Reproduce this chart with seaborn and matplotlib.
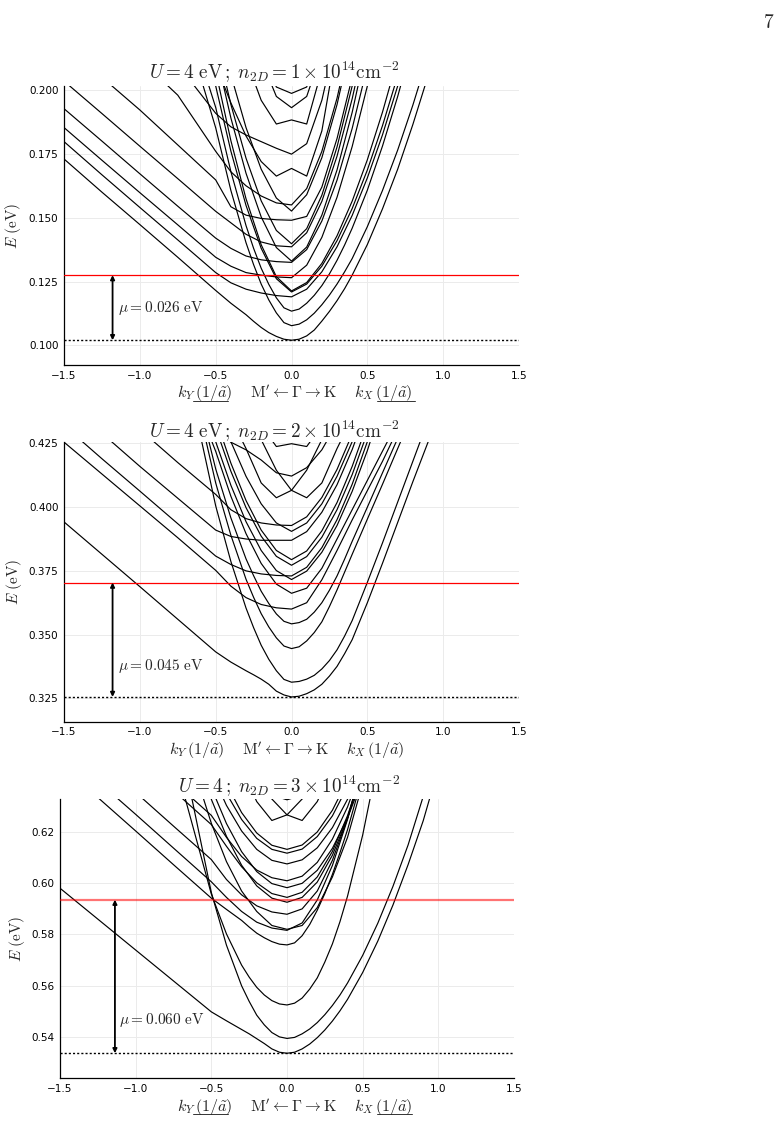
import pandas as pd
import matplotlib
matplotlib.use("Agg")
import matplotlib.pyplot as plt
from matplotlib.lines import Line2D
import seaborn as sns

# momentum grid (1/a~): negative side is k_Y (towards M'), positive side is k_X (towards K)
k_grid = [-1.5, -1.25, -1.0, -0.75, -0.5, -0.4, -0.3, -0.2, -0.1, 0.0,
          0.1, 0.2, 0.3, 0.4, 0.5, 0.6, 0.7, 0.8, 0.9, 1.0]
# extra points read near the band bottoms of the lowest bands
k_fine = [-0.25, -0.15, -0.05, 0.05, 0.15, 0.25, 0.35]

# panel 1 : U = 4 eV, n = 1e14 cm^-2   (band energies in eV)
bands_p1 = [
    [0.173, 0.160, 0.1473, 0.1345, 0.1215, 0.1165, 0.112, 0.107, 0.1035, 0.102, 0.1037, 0.1095, 0.1175, 0.1275, 0.1395, 0.1535, 0.169, 0.1865, 0.2055, 0.226],
    [0.30, 0.30, 0.30, 0.235, 0.1852, 0.1607, 0.1402, 0.124, 0.1127, 0.1077, 0.110, 0.1159, 0.124, 0.134, 0.1465, 0.1607, 0.1765, 0.1941, 0.2133, 0.234],
    [0.30, 0.30, 0.30, 0.24, 0.1932, 0.1681, 0.1469, 0.1302, 0.1186, 0.1134, 0.1165, 0.1234, 0.1333, 0.1459, 0.1608, 0.1781, 0.1975, 0.2189, 0.24, 0.262],
    [0.1798, 0.1668, 0.154, 0.1413, 0.1285, 0.1245, 0.122, 0.1205, 0.1195, 0.119, 0.122, 0.1288, 0.1386, 0.1509, 0.1656, 0.1825, 0.2016, 0.2227, 0.245, 0.268],
    [0.30, 0.30, 0.30, 0.235, 0.2016, 0.1761, 0.1548, 0.138, 0.1261, 0.1209, 0.124, 0.131, 0.141, 0.1536, 0.1687, 0.1861, 0.2056, 0.2272, 0.25, 0.275],
    [0.30, 0.30, 0.30, 0.24, 0.2074, 0.1802, 0.1574, 0.1394, 0.1269, 0.1213, 0.1246, 0.1321, 0.1429, 0.1565, 0.1727, 0.1914, 0.2124, 0.235, 0.26, 0.285],
    [0.1853, 0.1725, 0.1598, 0.1472, 0.1345, 0.131, 0.1285, 0.1275, 0.1268, 0.1265, 0.1314, 0.1423, 0.158, 0.1779, 0.2016, 0.2289, 0.26, 0.29, 0.32, 0.35],
    [0.1927, 0.18, 0.1672, 0.1545, 0.142, 0.138, 0.135, 0.1335, 0.1328, 0.1325, 0.1375, 0.1487, 0.1647, 0.185, 0.2093, 0.24, 0.27, 0.30, 0.33, 0.36],
    [0.30, 0.30, 0.30, 0.26, 0.215, 0.1891, 0.1674, 0.1503, 0.1383, 0.133, 0.1385, 0.151, 0.1687, 0.1913, 0.2182, 0.25, 0.28, 0.31, 0.34, 0.37],
    [0.2035, 0.1908, 0.178, 0.1653, 0.1525, 0.148, 0.1435, 0.1405, 0.139, 0.1386, 0.1441, 0.1564, 0.1741, 0.1966, 0.2233, 0.255, 0.29, 0.32, 0.35, 0.38],
    [0.30, 0.30, 0.30, 0.26, 0.2197, 0.1944, 0.1733, 0.1566, 0.145, 0.1398, 0.1457, 0.1588, 0.1777, 0.2016, 0.2301, 0.26, 0.29, 0.32, 0.35, 0.38],
    [0.218, 0.205, 0.1922, 0.1785, 0.1648, 0.1543, 0.151, 0.1497, 0.1492, 0.149, 0.1505, 0.162, 0.181, 0.205, 0.24, 0.27, 0.30, 0.33, 0.36, 0.39],
    [0.30, 0.30, 0.30, 0.28, 0.23, 0.206, 0.1853, 0.169, 0.1577, 0.1526, 0.159, 0.1735, 0.1943, 0.2205, 0.25, 0.28, 0.31, 0.34, 0.37, 0.40],
    [0.23, 0.22, 0.212, 0.198, 0.176, 0.168, 0.1625, 0.1585, 0.1558, 0.155, 0.1614, 0.176, 0.1968, 0.2231, 0.25, 0.28, 0.31, 0.34, 0.37, 0.40],
    [0.30, 0.30, 0.30, 0.26, 0.21, 0.195, 0.182, 0.172, 0.1663, 0.1693, 0.1663, 0.184, 0.218, 0.25, 0.28, 0.31, 0.34, 0.37, 0.40, 0.43],
    [0.30, 0.30, 0.26, 0.21, 0.1909, 0.1856, 0.1824, 0.1798, 0.1772, 0.1749, 0.179, 0.196, 0.222, 0.25, 0.28, 0.31, 0.34, 0.37, 0.40, 0.43],
    [0.30, 0.30, 0.30, 0.30, 0.28, 0.25, 0.212, 0.196, 0.1867, 0.1883, 0.1867, 0.208, 0.24, 0.27, 0.30, 0.33, 0.36, 0.39, 0.42, 0.45],
    [0.30, 0.30, 0.30, 0.30, 0.29, 0.27, 0.24, 0.212, 0.1975, 0.1931, 0.1975, 0.215, 0.24, 0.27, 0.30, 0.33, 0.36, 0.39, 0.42, 0.45],
    [0.30, 0.30, 0.30, 0.30, 0.29, 0.27, 0.25, 0.215, 0.2012, 0.1987, 0.2012, 0.22, 0.25, 0.28, 0.31, 0.34, 0.37, 0.40, 0.43, 0.46],
]
fine_p1 = [
    [0.1094, 0.105, 0.1024, 0.1024, 0.106, 0.1133, 0.1222],
    [0.1316, 0.1178, 0.1089, 0.1083, 0.1126, 0.1197, 0.1288],
    [0.138, 0.1239, 0.1147, 0.1142, 0.1196, 0.128, 0.1393],
]

# panel 2 : U = 4 eV, n = 2e14 cm^-2
bands_p2 = [
    [0.3942, 0.3815, 0.3688, 0.356, 0.3432, 0.3392, 0.3358, 0.3325, 0.3278, 0.3255, 0.3268, 0.3305, 0.3375, 0.348, 0.3625, 0.378, 0.394, 0.41, 0.4255, 0.442],
    [0.50, 0.50, 0.50, 0.469, 0.4005, 0.3787, 0.3604, 0.3458, 0.3358, 0.3313, 0.3325, 0.3365, 0.344, 0.3555, 0.3705, 0.386, 0.402, 0.418, 0.434, 0.450],
    [0.50, 0.50, 0.50, 0.474, 0.4095, 0.389, 0.3717, 0.3582, 0.3487, 0.3445, 0.3475, 0.355, 0.3675, 0.3815, 0.3953, 0.409, 0.423, 0.437, 0.45, 0.464],
    [0.50, 0.50, 0.50, 0.475, 0.415, 0.3958, 0.3797, 0.367, 0.3581, 0.3542, 0.356, 0.3625, 0.373, 0.3866, 0.40, 0.4135, 0.427, 0.44, 0.453, 0.466],
    [0.4255, 0.413, 0.4005, 0.388, 0.3752, 0.369, 0.3645, 0.3618, 0.3605, 0.360, 0.3625, 0.3715, 0.383, 0.395, 0.4065, 0.418, 0.4305, 0.443, 0.456, 0.469],
    [0.50, 0.50, 0.50, 0.46, 0.4219, 0.4043, 0.3896, 0.3779, 0.3698, 0.3662, 0.3682, 0.376, 0.3875, 0.399, 0.4105, 0.422, 0.4335, 0.445, 0.457, 0.469],
    [0.50, 0.50, 0.50, 0.46, 0.4257, 0.4086, 0.3943, 0.383, 0.3751, 0.3716, 0.3749, 0.3823, 0.3928, 0.4062, 0.4222, 0.4406, 0.46, 0.48, 0.50, 0.52],
    [0.432, 0.419, 0.4063, 0.3935, 0.3808, 0.3775, 0.375, 0.3738, 0.3732, 0.373, 0.3764, 0.3841, 0.3951, 0.409, 0.4257, 0.4448, 0.465, 0.485, 0.505, 0.525],
    [0.50, 0.50, 0.50, 0.47, 0.4311, 0.4141, 0.3998, 0.3886, 0.3807, 0.3772, 0.3806, 0.3882, 0.399, 0.4128, 0.4292, 0.448, 0.47, 0.49, 0.51, 0.53],
    [0.50, 0.50, 0.50, 0.47, 0.4348, 0.4173, 0.4026, 0.391, 0.383, 0.3794, 0.3828, 0.3907, 0.4018, 0.416, 0.4327, 0.45, 0.47, 0.49, 0.51, 0.53],
    [0.44, 0.429, 0.416, 0.4035, 0.391, 0.3885, 0.3875, 0.387, 0.387, 0.387, 0.3904, 0.398, 0.4088, 0.4226, 0.439, 0.46, 0.48, 0.50, 0.52, 0.54],
    [0.50, 0.50, 0.50, 0.48, 0.442, 0.4257, 0.4121, 0.4013, 0.3938, 0.3905, 0.3938, 0.4013, 0.4121, 0.4257, 0.442, 0.46, 0.48, 0.50, 0.52, 0.54],
    [0.46, 0.45, 0.4305, 0.4175, 0.405, 0.399, 0.3955, 0.3938, 0.393, 0.3928, 0.3962, 0.4038, 0.4148, 0.4287, 0.445, 0.465, 0.485, 0.505, 0.525, 0.545],
    [0.50, 0.50, 0.50, 0.48, 0.45, 0.435, 0.423, 0.4095, 0.4037, 0.4066, 0.4145, 0.4265, 0.44, 0.46, 0.48, 0.50, 0.52, 0.54, 0.56, 0.58],
    [0.56, 0.54, 0.52, 0.50, 0.48, 0.46, 0.44, 0.4265, 0.4145, 0.4066, 0.4037, 0.4095, 0.423, 0.435, 0.45, 0.47, 0.49, 0.51, 0.53, 0.55],
    [0.50, 0.50, 0.48, 0.45, 0.43, 0.4255, 0.4225, 0.4185, 0.4135, 0.4122, 0.4155, 0.4225, 0.433, 0.445, 0.46, 0.47, 0.48, 0.49, 0.50, 0.51],
    [0.50, 0.50, 0.50, 0.50, 0.48, 0.46, 0.445, 0.432, 0.4238, 0.4249, 0.4238, 0.432, 0.445, 0.46, 0.48, 0.50, 0.52, 0.54, 0.56, 0.58],
]
fine_p2 = [
    [0.3342, 0.3305, 0.3263, 0.3258, 0.3283, 0.3337, 0.3425],
    [0.3527, 0.3403, 0.3324, 0.3316, 0.334, 0.3398, 0.3494],
    [0.3646, 0.353, 0.3455, 0.3452, 0.3508, 0.361, 0.3745],
    [0.3731, 0.3622, 0.3552, 0.3547, 0.3588, 0.3674, 0.3796],
]

# panel 3 : U = 4, n = 3e14 cm^-2
bands_p3 = [
    [0.5981, 0.586, 0.5739, 0.5618, 0.5497, 0.5462, 0.5428, 0.5392, 0.5352, 0.5335, 0.5352, 0.5396, 0.5461, 0.5546, 0.5651, 0.5774, 0.5915, 0.6073, 0.6245, 0.645],
    [0.70, 0.70, 0.70, 0.668, 0.5964, 0.5758, 0.5599, 0.5484, 0.5416, 0.5393, 0.5411, 0.5455, 0.5522, 0.561, 0.5718, 0.5844, 0.5988, 0.615, 0.634, 0.653],
    [0.70, 0.70, 0.70, 0.65, 0.5958, 0.5802, 0.568, 0.5593, 0.5541, 0.5524, 0.5551, 0.563, 0.5763, 0.595, 0.6189, 0.648, 0.68, 0.71, 0.74, 0.77],
    [0.65, 0.6336, 0.6205, 0.6073, 0.5942, 0.5898, 0.5855, 0.5805, 0.5772, 0.5759, 0.5795, 0.5895, 0.6035, 0.621, 0.642, 0.66, 0.68, 0.70, 0.72, 0.74],
    [0.652, 0.640, 0.627, 0.6138, 0.6006, 0.5945, 0.589, 0.5848, 0.5825, 0.5816, 0.5845, 0.5935, 0.607, 0.625, 0.647, 0.67, 0.69, 0.71, 0.73, 0.75],
    [0.70, 0.70, 0.70, 0.67, 0.6235, 0.6085, 0.597, 0.589, 0.5835, 0.582, 0.5835, 0.5905, 0.6025, 0.618, 0.639, 0.66, 0.68, 0.70, 0.72, 0.74],
    [0.66, 0.648, 0.6356, 0.6224, 0.6093, 0.6015, 0.5955, 0.5912, 0.5888, 0.5879, 0.590, 0.597, 0.609, 0.6255, 0.647, 0.67, 0.69, 0.71, 0.73, 0.75],
    [0.70, 0.70, 0.70, 0.68, 0.6329, 0.6184, 0.6071, 0.599, 0.5942, 0.5926, 0.5945, 0.6005, 0.611, 0.6255, 0.644, 0.665, 0.69, 0.71, 0.73, 0.75],
    [0.68, 0.665, 0.65, 0.6363, 0.623, 0.6145, 0.6065, 0.6002, 0.596, 0.5945, 0.5965, 0.6025, 0.6125, 0.6265, 0.644, 0.665, 0.69, 0.71, 0.73, 0.75],
    [0.70, 0.70, 0.70, 0.68, 0.6374, 0.6234, 0.6124, 0.6046, 0.5999, 0.5983, 0.60, 0.6051, 0.6137, 0.6256, 0.641, 0.66, 0.68, 0.70, 0.72, 0.74],
    [0.68, 0.665, 0.652, 0.6398, 0.6266, 0.618, 0.6105, 0.6052, 0.6022, 0.601, 0.6028, 0.6082, 0.6173, 0.6299, 0.6462, 0.665, 0.69, 0.71, 0.73, 0.75],
    [0.70, 0.70, 0.70, 0.68, 0.6435, 0.6305, 0.6205, 0.6133, 0.609, 0.6076, 0.6092, 0.6139, 0.6218, 0.6329, 0.6471, 0.665, 0.69, 0.71, 0.73, 0.75],
    [0.70, 0.70, 0.70, 0.68, 0.65, 0.6352, 0.625, 0.6176, 0.6133, 0.6118, 0.6134, 0.6183, 0.6264, 0.6379, 0.652, 0.67, 0.69, 0.71, 0.73, 0.75],
    [0.70, 0.70, 0.70, 0.68, 0.655, 0.6389, 0.6277, 0.6197, 0.6149, 0.6133, 0.615, 0.6201, 0.6286, 0.6404, 0.655, 0.67, 0.69, 0.71, 0.73, 0.75],
    [0.72, 0.72, 0.72, 0.70, 0.67, 0.655, 0.645, 0.632, 0.6246, 0.6268, 0.633, 0.642, 0.655, 0.67, 0.69, 0.71, 0.73, 0.75, 0.77, 0.79],
    [0.77, 0.75, 0.73, 0.71, 0.69, 0.67, 0.655, 0.642, 0.633, 0.6268, 0.6246, 0.632, 0.645, 0.655, 0.67, 0.69, 0.71, 0.73, 0.75, 0.77],
    [0.72, 0.72, 0.72, 0.70, 0.69, 0.675, 0.66, 0.645, 0.6345, 0.6327, 0.6345, 0.645, 0.66, 0.675, 0.69, 0.70, 0.71, 0.72, 0.73, 0.74],
]
fine_p3 = [
    [0.5411, 0.5373, 0.5339, 0.5339, 0.5371, 0.5426, 0.5501],
    [0.5538, 0.5446, 0.5399, 0.5397, 0.543, 0.5486, 0.5563],
    [0.5633, 0.5563, 0.5528, 0.5531, 0.5586, 0.5692, 0.585],
    [0.5829, 0.5787, 0.5762, 0.5767, 0.5839, 0.596, 0.612],
]

titles = [r"$U = 4\ \mathrm{eV}\,;\; n_{2D} = 1 \times 10^{14}\mathrm{cm}^{-2}$",
          r"$U = 4\ \mathrm{eV}\,;\; n_{2D} = 2 \times 10^{14}\mathrm{cm}^{-2}$",
          r"$U = 4\,;\; n_{2D} = 3 \times 10^{14}\mathrm{cm}^{-2}$"]
band_bottom = [0.102, 0.3255, 0.5335]       # dotted line
fermi_level = [0.1275, 0.3704, 0.5936]      # red line
mu_labels = [r"$\mu = 0.026\ \mathrm{eV}$", r"$\mu = 0.045\ \mathrm{eV}$", r"$\mu = 0.060\ \mathrm{eV}$"]
y_ticks = [[0.100, 0.125, 0.150, 0.175, 0.200],
           [0.325, 0.350, 0.375, 0.400, 0.425],
           [0.54, 0.56, 0.58, 0.60, 0.62]]
y_fmt = ["%.3f", "%.3f", "%.2f"]
x_ticks = [-1.5, -1.0, -0.5, 0.0, 0.5, 1.0, 1.5]

sns.set_style("white")
plt.rcParams["mathtext.fontset"] = "cm"
plt.rcParams["font.family"] = ["DejaVu Sans"]

fig = plt.figure(figsize=(7.8, 11.21), dpi=100)

# layout of the three panels (figure fractions)
boxes = [[0.0821, 0.6744, 0.5833, 0.2489],
         [0.0821, 0.3562, 0.5833, 0.2498],
         [0.0769, 0.0381, 0.5821, 0.2489]]
ylims = [(0.0923, 0.2016), (0.3158, 0.4257), (0.5237, 0.6329)]
title_x = [0.4615, 0.4615, 0.504]
title_y = [1.027, 1.016, 1.027]
xlab_x = [0.508, 0.49, 0.518]
ylab_x = [-0.112, -0.11, -0.095]
arrow_k = [-1.18, -1.18, -1.137]
text_pos = [(-1.145, 0.1145), (-1.145, 0.3375), (-1.11, 0.5465)]
red_style = [dict(lw=0.9, alpha=1.0), dict(lw=0.9, alpha=1.0), dict(lw=1.6, alpha=0.55)]
# underline segments below the two "(1/a)" units (axes fractions), panels 1 and 3 only
underlines = [[(0.2835, 0.3604), (0.688, 0.771)], [], [(0.293, 0.370), (0.698, 0.776)]]

xlabel = r"$k_Y\,(1/\tilde{a})\quad\ \mathrm{M}^{\prime} \leftarrow \Gamma \rightarrow \mathrm{K}\quad\ k_X\,(1/\tilde{a})$"

all_bands = [bands_p1, bands_p2, bands_p3]
all_fine = [fine_p1, fine_p2, fine_p3]

for i in range(3):
    ax = fig.add_axes(boxes[i])
    rows = []
    for b, e_vals in enumerate(all_bands[i]):
        for k, e in zip(k_grid, e_vals):
            rows.append((b, k, e))
    for b, e_vals in enumerate(all_fine[i]):
        for k, e in zip(k_fine, e_vals):
            rows.append((b, k, e))
    df = pd.DataFrame(rows, columns=["band", "k", "E"]).sort_values(["band", "k"])
    sns.lineplot(data=df, x="k", y="E", units="band", estimator=None,
                 color="black", linewidth=0.85, legend=False, ax=ax)

    ax.axhline(fermi_level[i], color="red", zorder=3, **red_style[i])
    ax.axhline(band_bottom[i], color="black", lw=1.0, ls=(0, (1.5, 1.5)), zorder=3)
    ax.annotate("", xy=(arrow_k[i], fermi_level[i]), xytext=(arrow_k[i], band_bottom[i]),
                arrowprops=dict(arrowstyle="<|-|>", color="black", lw=1.3,
                                mutation_scale=6, shrinkA=0, shrinkB=0), zorder=4)
    ax.text(text_pos[i][0], text_pos[i][1], mu_labels[i], fontsize=11, va="center", ha="left")

    ax.set_xlim(-1.5, 1.5)
    ax.set_ylim(*ylims[i])
    ax.set_xticks(x_ticks)
    ax.set_yticks(y_ticks[i])
    ax.yaxis.set_major_formatter(matplotlib.ticker.FormatStrFormatter(y_fmt[i]))
    ax.grid(True, color="#ebebeb", lw=0.7)
    ax.set_axisbelow(True)
    for side in ["top", "right"]:
        ax.spines[side].set_visible(False)
    for side in ["left", "bottom"]:
        ax.spines[side].set_color("black")
        ax.spines[side].set_linewidth(0.9)
    ax.tick_params(direction="in", length=3.5, width=0.8, labelsize=7.5, colors="black", pad=4)
    ax.set_xlabel("")
    ax.set_ylabel("")

    ax.text(title_x[i], title_y[i], titles[i], transform=ax.transAxes,
            ha="center", va="baseline", fontsize=13.8)
    ax.text(xlab_x[i], -0.12, xlabel, transform=ax.transAxes,
            ha="center", va="baseline", fontsize=11.5)
    for x0, x1 in underlines[i]:
        ax.add_line(Line2D([x0, x1], [-0.129, -0.129], transform=ax.transAxes,
                           color="#333333", lw=0.7, clip_on=False))
    ax.text(ylab_x[i], 0.5, r"$E\ (\mathrm{eV})$", transform=ax.transAxes,
            ha="center", va="center", rotation=90, fontsize=11)

fig.text(0.986, 0.988, r"$\mathbf{7}$", ha="center", va="top", fontsize=14)

fig.savefig("out.png", dpi=100)
